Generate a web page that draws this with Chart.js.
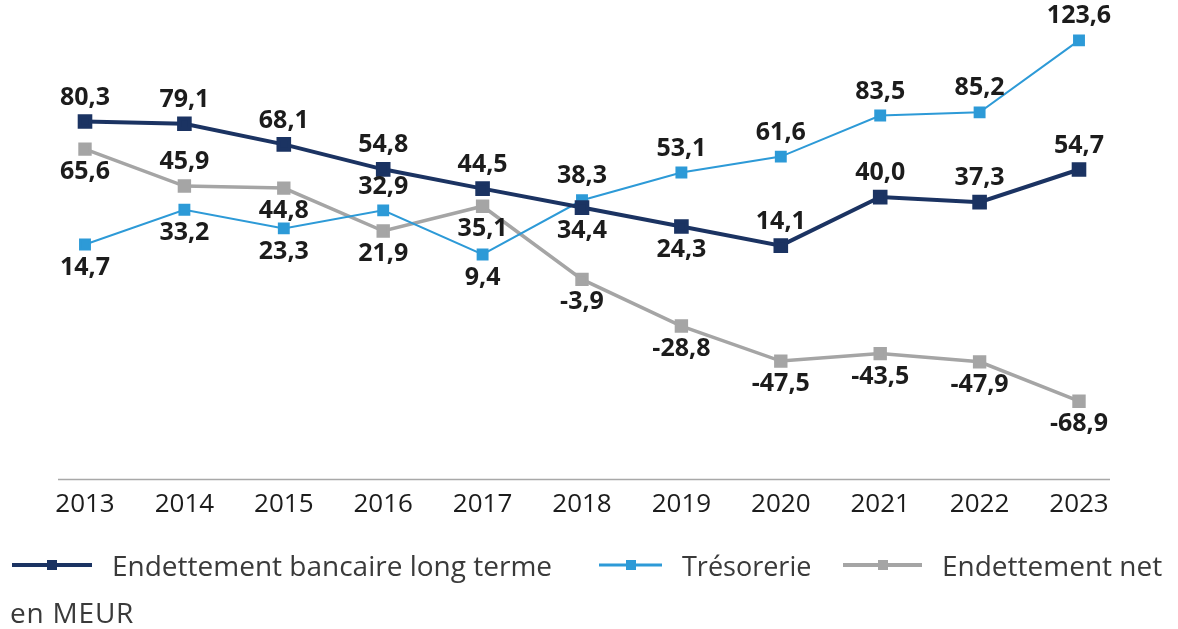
<!DOCTYPE html>
<html lang="fr">
<head>
<meta charset="utf-8">
<title>Endettement et trésorerie</title>
<script src="https://cdn.jsdelivr.net/npm/chart.js@4/dist/chart.umd.min.js"></script>
<style>
  html, body { margin: 0; padding: 0; background: #ffffff; }
  #wrap { position: relative; width: 1178px; height: 629px; overflow: hidden; font-family: "Open Sans", "Noto Sans", sans-serif; }
  #chart { position: absolute; left: 0; top: 0; }
  .leg { position: absolute; top: 548px; height: 34px; display: flex; align-items: center; color: #3a3a3a; font-size: 28px; font-weight: 400; white-space: nowrap; }
  .swatch { position: relative; display: inline-block; height: 12px; margin-right: 20px; }
  .swatch .ln { position: absolute; left: 0; right: 0; top: 50%; transform: translateY(-50%); }
  .swatch .sq { position: absolute; left: 50%; top: 50%; width: 10px; height: 10px; transform: translate(-50%, -50%); }
  #unit { position: absolute; left: 10px; top: 593px; font-size: 28px; letter-spacing: 0.8px; color: #3a3a3a; }
</style>
</head>
<body>
<div id="wrap">
  <canvas id="chart" width="1178" height="629"></canvas>
  <div class="leg" style="left:12px;"><span class="swatch" style="width:80px"><span class="ln" style="height:4px;background:#1b3362"></span><span class="sq" style="background:#1b3362"></span></span>Endettement bancaire long terme</div>
  <div class="leg" style="left:599px;"><span class="swatch" style="width:63px"><span class="ln" style="height:3px;background:#2d9ad7"></span><span class="sq" style="background:#2d9ad7"></span></span><span style="font-size:27px">Trésorerie</span></div>
  <div class="leg" style="left:843px;"><span class="swatch" style="width:79px"><span class="ln" style="height:4px;background:#a5a5a5"></span><span class="sq" style="background:#a5a5a5"></span></span>Endettement net</div>
  <div id="unit">en MEUR</div>
</div>
<script>
// Years on the horizontal axis
const years = ['2013', '2014', '2015', '2016', '2017', '2018', '2019', '2020', '2021', '2022', '2023'];

// Values in MEUR
const bankDebt = [80.3, 79.1, 68.1, 54.8, 44.5, 34.4, 24.3, 14.1, 40.0, 37.3, 54.7];
const treasury = [14.7, 33.2, 23.3, 32.9, 9.4, 38.3, 53.1, 61.6, 83.5, 85.2, 123.6];
const netDebt = [65.6, 45.9, 44.8, 21.9, 35.1, -3.9, -28.8, -47.5, -43.5, -47.9, -68.9];

// Where each value label sits relative to its point: 't' above, 'b' below
const bankDebtLabelPos = ['t', 't', 't', 't', 't', 'b', 'b', 't', 't', 't', 't'];
const treasuryLabelPos = ['b', 'b', 'b', 't', 'b', 't', 't', 't', 't', 't', 't'];
const netDebtLabelPos = ['b', 't', 'b', 'b', 'b', 'b', 'b', 'b', 'b', 'b', 'b'];

const COLORS = { bank: '#1b3362', treasury: '#2d9ad7', net: '#a5a5a5' };
const FONT = '"Open Sans", "Noto Sans", sans-serif';

const fmt = v => v.toFixed(1).replace('.', ',');

// Value labels drawn next to each point
const valueLabels = {
  id: 'valueLabels',
  afterDatasetsDraw(chart) {
    const ctx = chart.ctx;
    ctx.save();
    ctx.font = `700 25px ${FONT}`;
    ctx.fillStyle = '#1c1c1c';
    ctx.textAlign = 'center';
    ctx.textBaseline = 'middle';
    chart.data.datasets.forEach((ds, di) => {
      const meta = chart.getDatasetMeta(di);
      meta.data.forEach((pt, i) => {
        const dy = ds.labelPos[i] === 't' ? -24 : 23;
        ctx.fillText(fmt(ds.data[i]), pt.x, pt.y + dy);
      });
    });
    ctx.restore();
  }
};

// Thin baseline under the plot, a bit wider than the plotted range
const baseline = {
  id: 'baseline',
  beforeDatasetsDraw(chart) {
    const { ctx, chartArea } = chart;
    ctx.save();
    ctx.strokeStyle = '#a8a8a8';
    ctx.lineWidth = 1.5;
    ctx.beginPath();
    ctx.moveTo(chartArea.left - 27, chartArea.bottom + 0.5);
    ctx.lineTo(chartArea.right + 31, chartArea.bottom + 0.5);
    ctx.stroke();
    ctx.restore();
  }
};

new Chart(document.getElementById('chart'), {
  type: 'line',
  data: {
    labels: years,
    datasets: [
      {
        label: 'Endettement net',
        data: netDebt,
        labelPos: netDebtLabelPos,
        borderColor: COLORS.net,
        backgroundColor: COLORS.net,
        borderWidth: 3.5,
        pointStyle: 'rect',
        pointRadius: 7,
        order: 3
      },
      {
        label: 'Trésorerie',
        data: treasury,
        labelPos: treasuryLabelPos,
        borderColor: COLORS.treasury,
        backgroundColor: COLORS.treasury,
        borderWidth: 2,
        pointStyle: 'rect',
        pointRadius: 7,
        order: 2
      },
      {
        label: 'Endettement bancaire long terme',
        data: bankDebt,
        labelPos: bankDebtLabelPos,
        borderColor: COLORS.bank,
        backgroundColor: COLORS.bank,
        borderWidth: 4,
        pointStyle: 'rect',
        pointRadius: 7.5,
        order: 1
      }
    ]
  },
  options: {
    responsive: false,
    animation: false,
    events: [],
    clip: false,
    layout: { padding: { left: 85, right: 99, top: 10, bottom: 0 } },
    plugins: { legend: { display: false }, tooltip: { enabled: false } },
    elements: { line: { tension: 0 } },
    scales: {
      x: {
        offset: false,
        grid: { display: false },
        border: { display: false },
        ticks: { color: '#1c1c1c', font: { family: FONT, size: 26 }, padding: 2, maxRotation: 0 },
        afterFit(scale) { scale.height = 150; }
      },
      y: { display: false, min: -110.4, max: 139 }
    }
  },
  plugins: [baseline, valueLabels]
});
</script>
</body>
</html>
